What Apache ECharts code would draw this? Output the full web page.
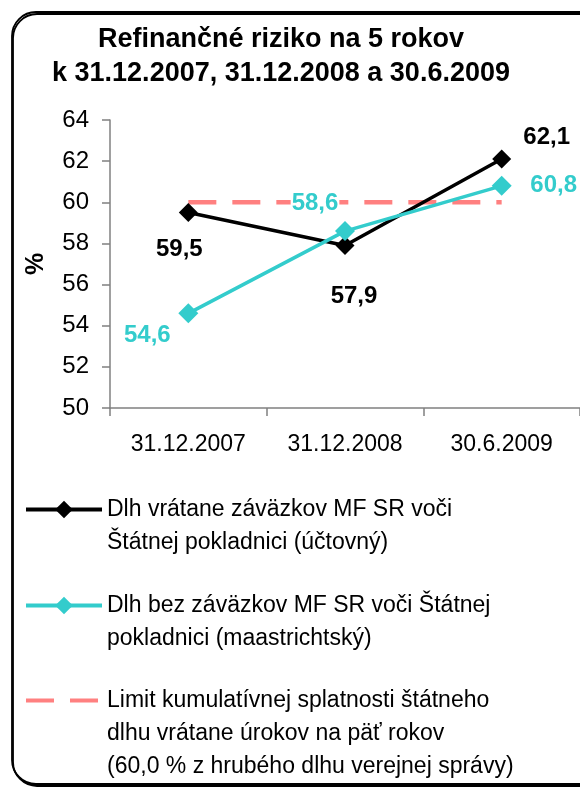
<!DOCTYPE html>
<html>
<head>
<meta charset="utf-8">
<script src="https://cdn.jsdelivr.net/npm/echarts@6/dist/echarts.min.js"></script>
<style>
html,body{margin:0;padding:0;background:#fff;overflow:hidden;}
#chart{width:580px;height:789px;}
</style>
</head>
<body>
<div id="chart"></div>
<script>
const categories = ['31.12.2007', '31.12.2008', '30.6.2009'];
const seriesNames = [
  'Dlh vrátane záväzkov MF SR voči\nŠtátnej pokladnici (účtovný)',
  'Dlh bez záväzkov MF SR voči Štátnej\npokladnici (maastrichtský)',
  'Limit kumulatívnej splatnosti štátneho\ndlhu vrátane úrokov na päť rokov\n(60,0 % z hrubého dlhu verejnej správy)'
];
const debtAccounting = [59.5, 57.9, 62.1];
const debtMaastricht = [54.6, 58.6, 60.8];
const limitValues = [60.0, 60.0, 60.0];
const yTicks = [50, 52, 54, 56, 58, 60, 62, 64];

const FONT = 'Liberation Sans, Arial, sans-serif';
const fmt = v => v.toFixed(1).replace('.', ',');

const blackOffsets = [[-9, 37], [9, 51], [45, -22]];
const cyanOffsets = [[-41, 22], [-30, -28], [52, 0]];

function withLabels(values, offsets, color) {
  return values.map((v, i) => ({
    value: v,
    label: {
      show: true, position: 'inside', offset: offsets[i],
      formatter: fmt(v), color: color, fontWeight: 'bold', fontSize: 24, fontFamily: FONT,
      backgroundColor: '#fff', padding: [0, 1]
    }
  }));
}

const chart = echarts.init(document.getElementById('chart'), null, {renderer: 'canvas'});
const legendBase = {
  left: 24, orient: 'vertical', itemWidth: 76, itemHeight: 22, itemGap: 0, padding: 0,
  selectedMode: false,
  formatter: name => '\n'.repeat(name.split('\n').length - 1) + name,
  textStyle: {fontSize: 23, fontFamily: FONT, color: '#000', lineHeight: 33},
  lineStyle: {width: 4}
};
chart.setOption({
  animation: false,
  backgroundColor: '#fff',
  graphic: [{
    type: 'rect', z: -10, silent: true,
    shape: {x: 12, y: 12, width: 620, height: 772, r: 24},
    style: {fill: '#fff', stroke: '#000', lineWidth: 1.8, shadowColor: '#000', shadowOffsetX: 1, shadowOffsetY: 2, shadowBlur: 0}
  }],
  title: {
    text: 'Refinančné riziko na 5 rokov\nk 31.12.2007, 31.12.2008 a 30.6.2009',
    left: 281, top: 23, textAlign: 'center', padding: 0,
    textStyle: {fontSize: 27, fontWeight: 'bold', fontFamily: FONT, color: '#000', lineHeight: 34}
  },
  grid: {left: 110, top: 120, bottom: 381, right: -4, containLabel: false},
  xAxis: {
    type: 'category', data: categories, boundaryGap: true,
    axisLine: {lineStyle: {color: '#808080', width: 1.5}},
    axisTick: {show: true, length: 8, lineStyle: {color: '#808080', width: 1.5}, alignWithLabel: false},
    axisLabel: {fontSize: 23, fontFamily: FONT, color: '#000', margin: 25}
  },
  yAxis: {
    type: 'value', min: 50, max: 64, interval: 2,
    name: '%', nameLocation: 'middle', nameGap: 61, nameRotate: 90,
    nameTextStyle: {fontSize: 25, fontWeight: 'bold', fontFamily: FONT, color: '#000'},
    axisLine: {show: true, lineStyle: {color: '#808080', width: 1.5}},
    axisTick: {show: true, length: 8, lineStyle: {color: '#808080', width: 1.5}},
    splitLine: {show: false},
    axisLabel: {fontSize: 24, fontFamily: FONT, color: '#000', margin: 21,
      formatter: v => yTicks.includes(v) ? String(v) : ''}
  },
  legend: [
    Object.assign({}, legendBase, {data: [seriesNames[0]], top: 460}),
    Object.assign({}, legendBase, {data: [seriesNames[1]], top: 556}),
    Object.assign({}, legendBase, {data: [{name: seriesNames[2], itemStyle: {opacity: 0}}], top: 618})
  ],
  series: [
    {
      name: seriesNames[2], type: 'line', data: limitValues.map((v, i) => i === 0 ? {
        value: v, label: {show: true, position: 'inside', offset: [-48, 0], formatter: fmt(v),
          color: '#FF8080', fontWeight: 'bold', fontSize: 24, fontFamily: FONT}
      } : v),
      symbol: 'none', showSymbol: false, z: 1,
      lineStyle: {color: '#FF8080', width: 4.5, type: [28, 16], cap: 'butt'},
      itemStyle: {color: '#FF8080'}
    },
    {
      name: seriesNames[0], type: 'line', data: withLabels(debtAccounting, blackOffsets, '#000'),
      symbol: 'diamond', symbolSize: 19, z: 3,
      lineStyle: {color: '#000', width: 3.5}, itemStyle: {color: '#000'}
    },
    {
      name: seriesNames[1], type: 'line', data: withLabels(debtMaastricht, cyanOffsets, '#33CCCC'),
      symbol: 'diamond', symbolSize: 20, z: 4,
      lineStyle: {color: '#33CCCC', width: 3.5}, itemStyle: {color: '#33CCCC'}
    }
  ]
});
</script>
</body>
</html>
